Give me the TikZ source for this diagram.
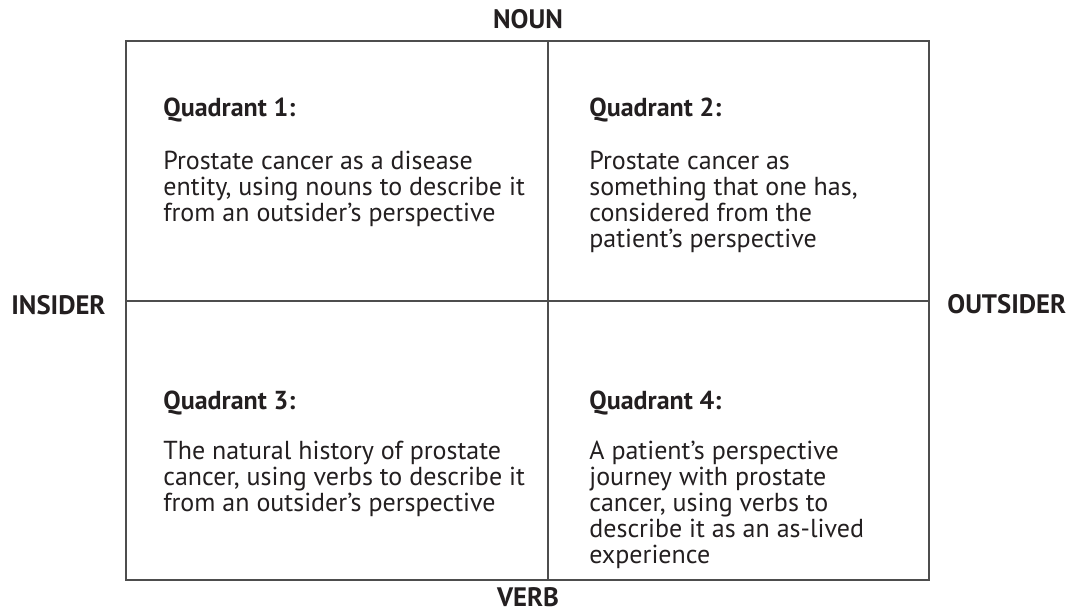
\documentclass[tikz,border=0pt]{standalone}
\usepackage{fontspec}
\setmainfont{PT Sans}
\definecolor{inkgray}{HTML}{231F20}
\definecolor{rulegray}{HTML}{4D4D4D}
\begin{document}
\begin{tikzpicture}[x=0.02cm, y=0.02cm,
          axislabel/.style = {font=\bfseries\fontsize{15.2}{17}\selectfont,
          text=inkgray, inner sep=0pt},
          quadtitle/.style = {anchor=base west, inner sep=0pt, text=inkgray,
          font=\bfseries\fontsize{14.8}{17}\selectfont},
          quadtext/.style = {anchor=north west, inner sep=0pt, align=left,
          text=inkgray, font=\fontsize{14.8}{14.8}\selectfont},
          gridline/.style = {draw=rulegray, line width=1pt}
          ]
  \useasboundingbox (0,0) rectangle (1073,614);
  \coordinate (sw) at (126,34);
  \coordinate (ne) at (929,573);
  \coordinate (top) at (548,573);
  \coordinate (bottom) at (548,34);
  \coordinate (left) at (126,313);
  \coordinate (right) at (929,313);
  \draw[gridline] (sw) rectangle (ne);
  \draw[gridline] (top) -- (bottom);
  \draw[gridline] (left) -- (right);

  \node[axislabel, anchor=base] (noun) at (528,585) {NOUN};
  \node[axislabel, anchor=base] (verb) at (528,7) {VERB};
  \node[axislabel, anchor=base west] (insider) at (11,299) {INSIDER};
  \node[axislabel, anchor=base west] (outsider) at (947,300) {OUTSIDER};

  \node[quadtitle] (q1) at (163,497) {Quadrant 1:};
  \node[quadtext] (q1text) at (163,463) {Prostate cancer as a disease\\
    entity, using nouns to describe it\\ from an outsider’s perspective};
  \node[quadtitle] (q2) at (589,497) {Quadrant 2:};
  \node[quadtext] (q2text) at (589,463) {Prostate cancer as\\
    something that one has,\\ considered from the\\ patient’s perspective};
  \node[quadtitle] (q3) at (163,204) {Quadrant 3:};
  \node[quadtext] (q3text) at (163,173) {The natural history of prostate\\
    cancer, using verbs to describe it\\ from an outsider’s perspective};
  \node[quadtitle] (q4) at (589,204) {Quadrant 4:};
  \node[quadtext] (q4text) at (589,173) {A patient’s perspective\\
    journey with prostate\\ cancer, using verbs to\\
    describe it as an as-lived\\ experience};
\end{tikzpicture}
\end{document}
